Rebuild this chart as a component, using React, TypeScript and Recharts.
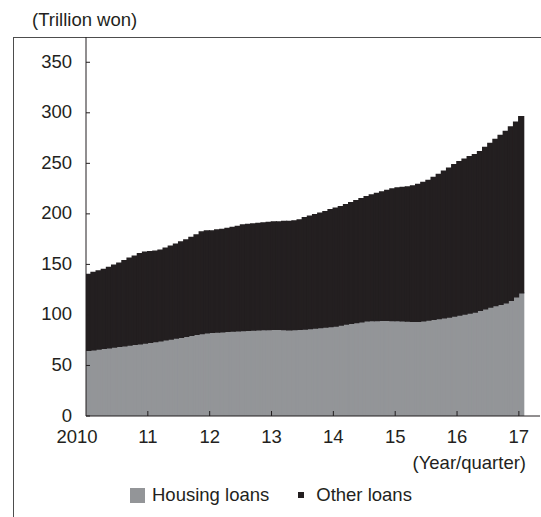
import React from "react";
import { BarChart, Bar, XAxis, YAxis, Legend } from "recharts";

const yearTickLabels = ["2010", "11", "12", "13", "14", "15", "16", "17"];
const yearTickMonths = [0, 12, 24, 36, 48, 60, 72, 84];
const yTicks = [0, 50, 100, 150, 200, 250, 300, 350];

// monthly, Jan 2010 .. Jan 2017 (trillion won)
const housingLoans = [
  65, 65.7, 66.3, 67, 67.6, 68.3, 69, 69.6, 70.3, 71, 71.6, 72.3,
  73, 73.8, 74.6, 75.5, 76.3, 77.2, 78, 79, 80, 81, 81.8, 82.4,
  82.8, 83.2, 83.5, 83.8, 84.1, 84.4, 84.7, 85, 85.2, 85.4, 85.6, 85.7,
  85.8, 85.8, 85.6, 85.5, 85.6, 85.8, 86.2, 86.6, 87.1, 87.6, 88.1, 88.6,
  89.2, 90, 91, 91.8, 92.6, 93.4, 94.2, 94.5, 94.6, 94.7, 94.7, 94.6,
  94.5, 94.3, 94.1, 93.9, 93.9, 94.3, 95, 95.8, 96.5, 97.3, 98.1, 99,
  99.9, 100.9, 101.9, 103, 104.6, 106.2, 108, 109.5, 110.5, 112, 114.7, 118,
  122,
];
const otherLoans = [
  75, 76.3, 77.2, 78, 79.4, 80.7, 82, 83.9, 85.7, 87, 88.9, 89.7,
  89.5, 89.2, 89.4, 90.5, 91.7, 92.8, 94, 95, 96.5, 98, 100.2, 100.6,
  100.2, 100.8, 101, 101.7, 102.4, 103.1, 104.3, 104.5, 104.8, 105.1, 105.4, 105.8,
  106.2, 106.2, 106.9, 107, 107.4, 108.2, 109.8, 110.9, 111.9, 112.9, 113.9, 115.4,
  116.3, 117, 118, 119.2, 120.4, 121.6, 122.8, 124, 125.4, 126.8, 128.3, 129.9,
  131, 131.7, 132.4, 133.6, 135.1, 136.7, 138, 140.2, 142.5, 144.7, 146.9, 149.5,
  151.6, 153.1, 154.6, 155.5, 156.9, 159.3, 161.5, 164, 167, 169.5, 171.3, 172.5,
  174,
];

const data = housingLoans.map((h, i) => ({
  t: i + 0.5,
  housing: h,
  other: otherLoans[i],
}));

const FONT = "'Liberation Sans', Arial, sans-serif";
const FS = 18.5;
const INK = "#231f20";
const GRAY = "#939598";

const YTick = (props: any) => {
  const { x, y, payload } = props;
  return (
    <g>
      <line x1={x} x2={x + 4} y1={y} y2={y} stroke={INK} strokeWidth={1} />
      <text x={x - 14} y={y} dy="0.3em" textAnchor="end" fontSize={FS} fontFamily={FONT} fill={INK}>
        {payload.value}
      </text>
    </g>
  );
};

const XTick = (props: any) => {
  const { x, y, payload, index } = props;
  const label = yearTickLabels[yearTickMonths.indexOf(payload.value)];
  return (
    <g>
      {index > 0 && <line x1={x} x2={x} y1={y} y2={y - 5} stroke={INK} strokeWidth={1} />}
      <text x={index === 0 ? x - 9 : x} y={y + 26.5} textAnchor="middle" fontSize={FS} fontFamily={FONT} fill={INK}>
        {label}
      </text>
    </g>
  );
};

const LegendContent = () => (
  <div style={{ display: "flex", alignItems: "center", fontFamily: FONT, fontSize: FS, color: INK, whiteSpace: "nowrap" }}>
    <span style={{ display: "inline-block", width: 15, height: 15, background: GRAY, marginRight: 7 }} />
    <span>Housing loans</span>
    <span style={{ display: "inline-block", width: 6, height: 6, background: INK, marginLeft: 29, marginRight: 12 }} />
    <span>Other loans</span>
  </div>
);

export default function App() {
  return (
    <div style={{ position: "absolute", left: 0, top: 0, width: 541, height: 517, background: "#fff", overflow: "hidden" }}>
      <div
        style={{
          position: "absolute",
          left: 13,
          top: 37,
          width: 600,
          height: 600,
          borderTop: "1px solid #4d4d4d",
          borderLeft: "1px solid #4d4d4d",
        }}
      />
      <div style={{ position: "absolute", left: 0, top: 0 }}>
        <BarChart
          width={541}
          height={517}
          data={data}
          margin={{ top: 37, right: 1, bottom: 41, left: 26 }}
          barCategoryGap={0}
          barGap={0}
        >
          <XAxis
            dataKey="t"
            type="number"
            domain={[0, 88.1]}
            ticks={yearTickMonths}
            interval={0}
            tickSize={0}
            tickMargin={0}
            tickLine={false}
            tick={<XTick />}
            height={60}
            axisLine={{ stroke: INK, strokeWidth: 1 }}
            allowDataOverflow
            label={{
              content: (p: any) => (
                <text
                  x={p.viewBox.x + p.viewBox.width - 14}
                  y={p.viewBox.y + 53}
                  textAnchor="end"
                  fontSize={FS}
                  fontFamily={FONT}
                  fill={INK}
                >
                  (Year/quarter)
                </text>
              ),
            }}
          />
          <YAxis
            type="number"
            domain={[0, 375]}
            ticks={yTicks}
            interval={0}
            width={60}
            tickSize={0}
            tickMargin={0}
            tickLine={false}
            tick={<YTick />}
            axisLine={{ stroke: INK, strokeWidth: 1 }}
            allowDataOverflow
            label={{
              content: (p: any) => (
                <text x={32} y={p.viewBox.y - 11} textAnchor="start" fontSize={FS} fontFamily={FONT} fill={INK}>
                  (Trillion won)
                </text>
              ),
            }}
          />
          <Legend
            layout="horizontal"
            verticalAlign="middle"
            align="center"
            wrapperStyle={{ top: 484, left: 130, width: 330, height: 22 }}
            content={<LegendContent />}
          />
          <Bar dataKey="housing" name="Housing loans" stackId="a" fill={GRAY} stroke={GRAY} strokeWidth={1.6} barSize={5.2} isAnimationActive={false} />
          <Bar dataKey="other" name="Other loans" stackId="a" fill={INK} stroke={INK} strokeWidth={1.6} barSize={5.2} isAnimationActive={false} />
        </BarChart>
      </div>
    </div>
  );
}
